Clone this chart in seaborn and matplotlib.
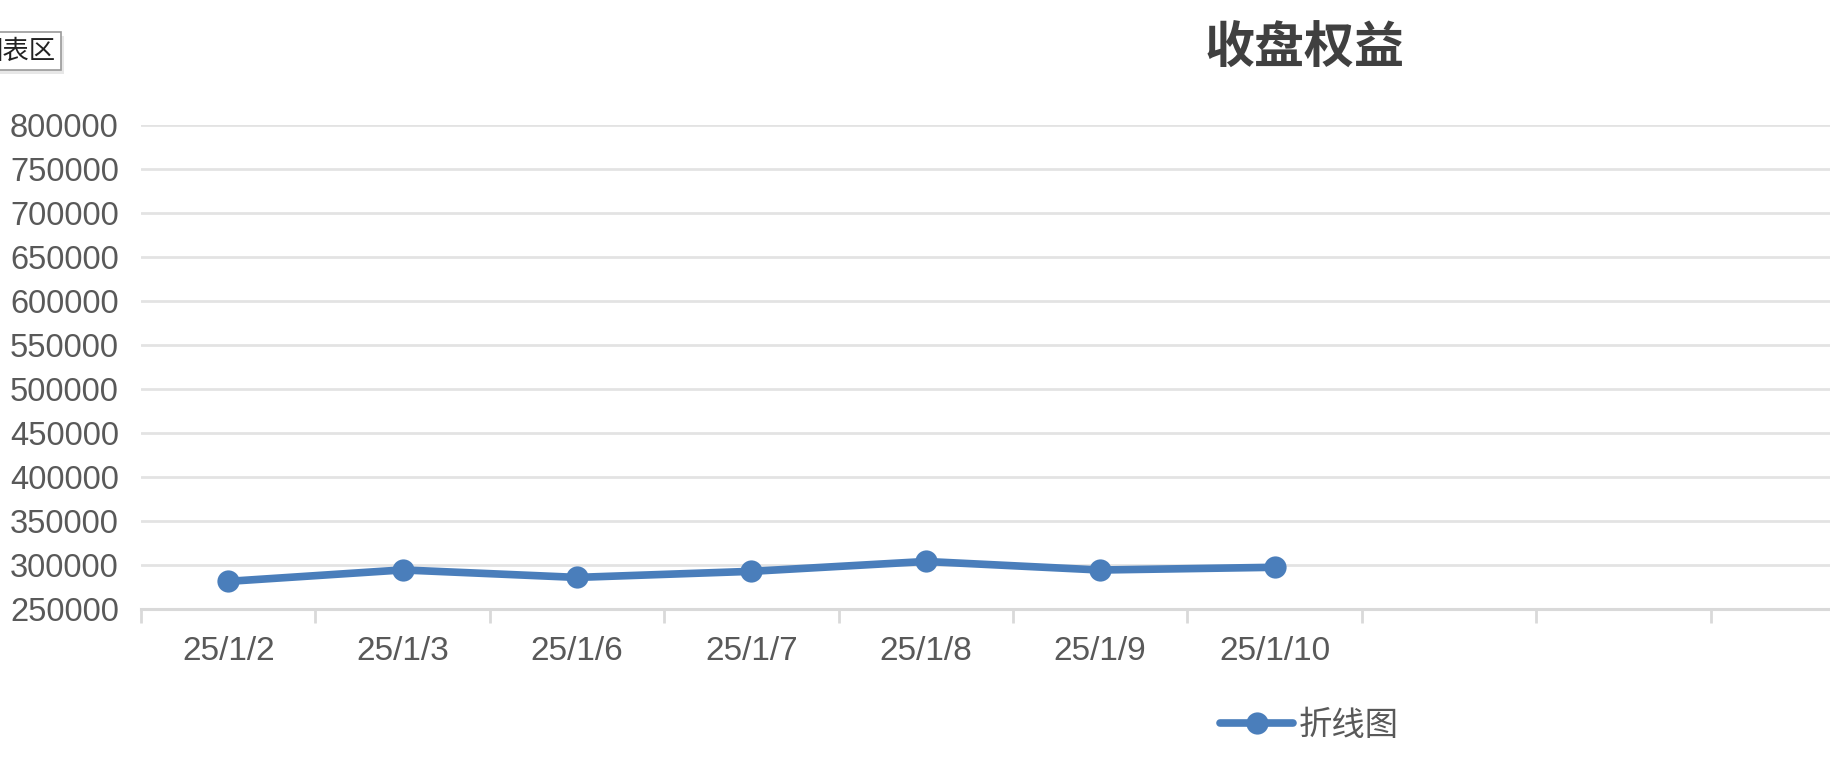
import pandas as pd
import seaborn as sns
import matplotlib.pyplot as plt
import matplotlib.patheffects as pe

# chart data
dates = ['25/1/2', '25/1/3', '25/1/6', '25/1/7', '25/1/8', '25/1/9', '25/1/10']
equity = [281400, 294400, 285900, 292800, 304000, 294300, 297400]
y_ticks = list(range(250000, 800001, 50000))

title = '收盘权益'
series_name = '折线图'
line_color = '#4a7ebb'

df = pd.DataFrame({'date': dates, 'value': equity})

sns.set_style('white')
plt.rcParams['font.family'] = ['Liberation Sans', 'Noto Sans CJK SC', 'DejaVu Sans']

fig = plt.figure(figsize=(18.3, 7.72), dpi=100)
ax = fig.add_axes([141 / 1830, 1 - 609 / 772, 1 - 141 / 1830, (609 - 125) / 772])

sns.lineplot(data=df, x='date', y='value', ax=ax, color=line_color, linewidth=5.5,
             marker='o', markersize=16, markeredgewidth=0, sort=False, label=series_name)

# axes look
ax.set_yticks(y_ticks)
ax.set_yticklabels([str(v) for v in y_ticks])
ax.set_ylim(y_ticks[0], y_ticks[-1])
ax.set_xticks(range(len(dates)))
ax.set_xticklabels(dates)
ax.set_xticks([i - 0.5 for i in range(11)], minor=True)
ax.set_xlim(-0.5, -0.5 + (1830 - 141) / 174.4)
ax.set_xlabel('')
ax.set_ylabel('')
ax.grid(axis='y', color='#e3e3e3', linewidth=2)
ax.set_axisbelow(True)
for s in ['left', 'right', 'top']:
    ax.spines[s].set_visible(False)
ax.spines['bottom'].set_color('#d9d9d9')
ax.spines['bottom'].set_linewidth(2.2)
ax.tick_params(axis='y', length=0, pad=16, labelsize=23.5, labelcolor='#595959')
ax.tick_params(axis='x', which='major', bottom=False, pad=16, labelsize=24, labelcolor='#595959')
ax.tick_params(axis='x', which='minor', bottom=True, length=10, width=2, color='#d9d9d9')

ax.legend_.remove()
handles, labels = ax.get_legend_handles_labels()
leg = fig.legend(handles, labels, loc='center left', bbox_to_anchor=(1190 / 1830, 1 - 725 / 772),
                 frameon=False, handlelength=2.2, handletextpad=0.15,
                 prop={'family': ['Noto Sans CJK SC'], 'size': 24})
for t in leg.get_texts():
    t.set_color('#595959')

fig.text(1305 / 1830, 1 - 48 / 772, title, ha='center', va='center', fontsize=36,
         fontweight='bold', color='#404040', family=['Noto Sans CJK SC'])

# the little "chart area" tooltip at top left, cut off by the edge
tip = fig.text(56 / 1830, 1 - 51 / 772, '图表区', ha='right', va='center', fontsize=19,
               color='#222222', family=['Noto Sans CJK SC'],
               bbox=dict(boxstyle='square,pad=0.2', facecolor='white', edgecolor='#9a9a9a', linewidth=1.2))
tip.get_bbox_patch().set_path_effects([pe.SimplePatchShadow(offset=(2, -3), shadow_rgbFace='#bbbbbb', alpha=0.35), pe.Normal()])

fig.savefig('out.png', dpi=100)
